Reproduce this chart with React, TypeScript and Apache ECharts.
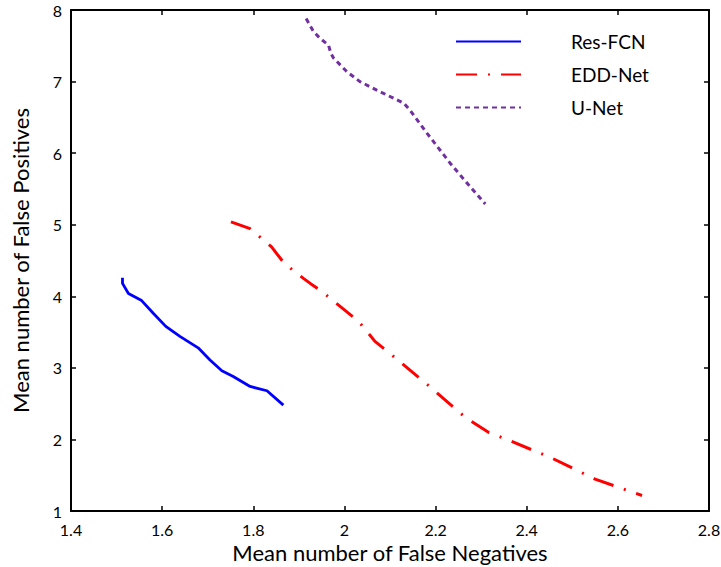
import React, { useEffect, useRef } from "react";
import * as echarts from "echarts";

const resFcnX = [1.513, 1.513, 1.526, 1.555, 1.581, 1.608, 1.639, 1.679, 1.705, 1.731, 1.756, 1.793, 1.83, 1.866];
const resFcnY = [4.26, 4.18, 4.04, 3.94, 3.76, 3.58, 3.44, 3.28, 3.11, 2.96, 2.88, 2.74, 2.68, 2.48];

const eddNetX = [1.751, 1.793, 1.84, 1.868, 1.91, 1.925, 1.95, 2.031, 2.067, 2.104, 2.185, 2.265, 2.316, 2.356, 2.455, 2.55, 2.653];
const eddNetY = [5.04, 4.945, 4.69, 4.46, 4.25, 4.18, 4.07, 3.65, 3.37, 3.18, 2.75, 2.31, 2.1, 2.0, 1.74, 1.445, 1.217];

const uNetX = [1.916, 1.932, 1.947, 1.965, 1.97, 1.976, 2.005, 2.034, 2.071, 2.13, 2.144, 2.181, 2.232, 2.276, 2.309];
const uNetY = [7.88, 7.7, 7.6, 7.51, 7.4, 7.33, 7.14, 7.0, 6.88, 6.7, 6.6, 6.28, 5.86, 5.53, 5.29];

const seriesNames = ["Res-FCN", "EDD-Net", "U-Net"];
const xTicks = { min: 1.4, max: 2.8, interval: 0.2 };
const yTicks = { min: 1, max: 8, interval: 1 };
const xTitle = "Mean number of False Negatives";
const yTitle = "Mean number of False Positives";

const pair = (xs: number[], ys: number[]) => xs.map((x, i) => [x, ys[i]]);

export default function App() {
  const ref = useRef<HTMLDivElement>(null);
  useEffect(() => {
    if (!ref.current) return;
    const chart = echarts.init(ref.current, undefined, { renderer: "svg" });
    const font = "Lato, 'Open Sans', sans-serif";
    const axisCommon = {
      axisLine: { show: true, onZero: false, lineStyle: { color: "#000", width: 2 } },
      axisTick: { show: true, inside: true, length: 5, lineStyle: { color: "#000", width: 1.5 } },
      splitLine: { show: false },
      nameMoveOverlap: false,
    };
    chart.setOption({
      animation: false,
      backgroundColor: "#fff",
      grid: { left: 71, right: 12, top: 10, bottom: 56, containLabel: false, outerBoundsMode: "none" },
      legend: {
        orient: "vertical",
        left: 450,
        top: 27,
        itemWidth: 65,
        itemHeight: 20,
        itemGap: 14,
        itemStyle: { opacity: 0 },
        textStyle: { fontFamily: font, fontSize: 19, color: "#000", padding: [0, 0, 0, 45] },
        data: seriesNames,
      },
      xAxis: [
        {
          type: "value",
          ...xTicks,
          position: "bottom",
          ...axisCommon,
          axisLabel: { fontFamily: font, fontSize: 16, color: "#000", margin: 10, formatter: (v: number) => String(Number(v.toFixed(1))) },
          name: xTitle,
          nameLocation: "middle",
          nameGap: 30,
          nameTextStyle: { fontFamily: font, fontSize: 22, color: "#000" },
        },
        {
          type: "value",
          ...xTicks,
          position: "top",
          ...axisCommon,
          axisLabel: { show: false },
        },
      ],
      yAxis: [
        {
          type: "value",
          ...yTicks,
          position: "left",
          ...axisCommon,
          axisLabel: { fontFamily: font, fontSize: 16, color: "#000", margin: 9 },
          name: yTitle,
          nameLocation: "middle",
          nameGap: 40,
          nameTextStyle: { fontFamily: font, fontSize: 22, color: "#000" },
        },
        {
          type: "value",
          ...yTicks,
          position: "right",
          ...axisCommon,
          axisLabel: { show: false },
        },
      ],
      series: [
        {
          name: seriesNames[0],
          type: "line",
          data: pair(resFcnX, resFcnY),
          showSymbol: false,
          symbol: "none",
          lineStyle: { color: "#0000FF", width: 2.8 },
          itemStyle: { color: "#0000FF" },
        },
        {
          name: seriesNames[1],
          type: "line",
          data: pair(eddNetX, eddNetY),
          showSymbol: false,
          symbol: "none",
          lineStyle: { color: "#FF0000", width: 3, type: [21, 11, 2, 11] },
          itemStyle: { color: "#FF0000" },
        },
        {
          name: seriesNames[2],
          type: "line",
          data: pair(uNetX, uNetY),
          showSymbol: false,
          symbol: "none",
          lineStyle: { color: "#7030A0", width: 3, type: [5, 4] },
          itemStyle: { color: "#7030A0" },
        },
      ],
    });
    return () => chart.dispose();
  }, []);
  return <div ref={ref} style={{ position: "fixed", left: 0, top: 0, width: 721, height: 567 }} />;
}
